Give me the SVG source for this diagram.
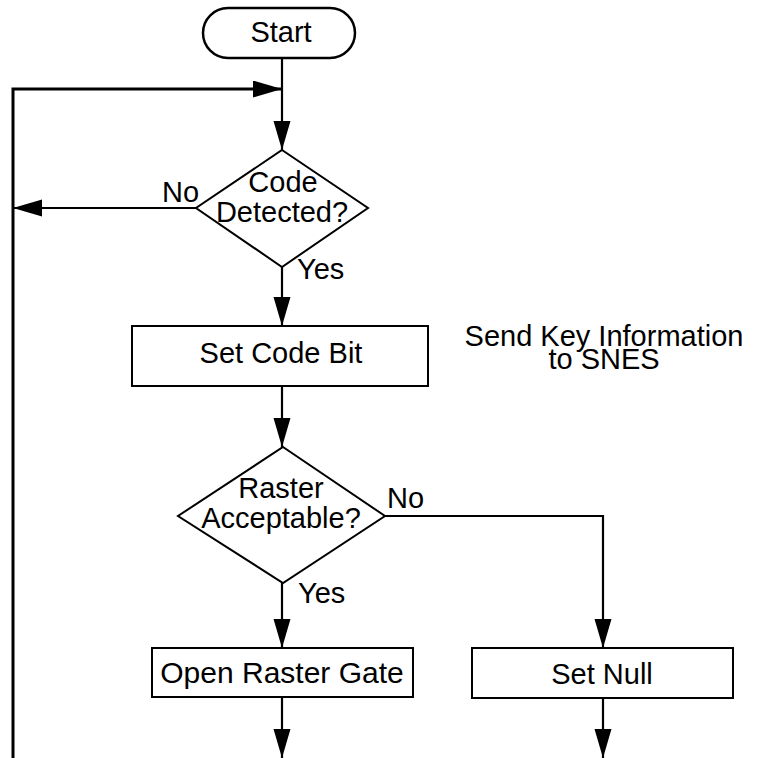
<svg xmlns="http://www.w3.org/2000/svg" width="758" height="758" viewBox="0 0 758 758">
<style>
.shape{fill:#fff;stroke:#000;stroke-width:2}
.line{fill:none;stroke:#000;stroke-width:2.2}
text{font-family:"Liberation Sans",Arial,sans-serif;font-size:29px;fill:#000}
.c{text-anchor:middle}
</style>
<defs>
<marker id="ah" markerUnits="userSpaceOnUse" markerWidth="30" markerHeight="18" refX="29" refY="8.5" orient="auto">
<path d="M0,0 L29,8.5 L0,17 Z" fill="#000"/>
</marker>
</defs>
<rect width="758" height="758" fill="#fff"/>
<g id="connectors">
<path class="line" d="M282,58 V150" marker-end="url(#ah)"/>
<path class="line" style="stroke-width:3" d="M13,758 V89 H282" marker-end="url(#ah)"/>
<path class="line" d="M196,208 H13" marker-end="url(#ah)"/>
<path class="line" d="M282,267 V326" marker-end="url(#ah)"/>
<path class="line" d="M282,386 V447" marker-end="url(#ah)"/>
<path class="line" d="M282,583 V648" marker-end="url(#ah)"/>
<path class="line" d="M385,516 H603 V648" marker-end="url(#ah)"/>
<path class="line" d="M282,697 V758" marker-end="url(#ah)"/>
<path class="line" d="M603,698 V758" marker-end="url(#ah)"/>
</g>
<g id="start">
<rect class="shape" style="stroke-width:2.5" x="203" y="8" width="152" height="50" rx="25" ry="25"/>
<text class="c" x="281" y="42">Start</text>
</g>
<g id="code-detected">
<polygon class="shape" points="282,150 368,208 282,267 196,208"/>
<text class="c" x="283" y="192">Code</text>
<text class="c" x="282" y="222">Detected?</text>
<text x="162" y="202">No</text>
<text x="297" y="279">Yes</text>
</g>
<g id="set-code-bit">
<rect class="shape" x="132" y="326" width="296" height="60"/>
<text class="c" x="281" y="363">Set Code Bit</text>
</g>
<g id="send-key">
<text class="c" x="604" y="346">Send Key Information</text>
<text class="c" x="604" y="369">to SNES</text>
</g>
<g id="raster-acceptable">
<polygon class="shape" points="283,447 385,516 283,583 178,516"/>
<text class="c" x="281" y="498">Raster</text>
<text class="c" x="281" y="528">Acceptable?</text>
<text x="387" y="508">No</text>
<text x="298" y="603">Yes</text>
</g>
<g id="open-raster-gate">
<rect class="shape" x="152" y="648" width="261" height="49"/>
<text class="c" x="282" y="683" style="font-size:30px">Open Raster Gate</text>
</g>
<g id="set-null">
<rect class="shape" x="472" y="648" width="261" height="50"/>
<text class="c" x="602" y="684">Set Null</text>
</g>
</svg>
